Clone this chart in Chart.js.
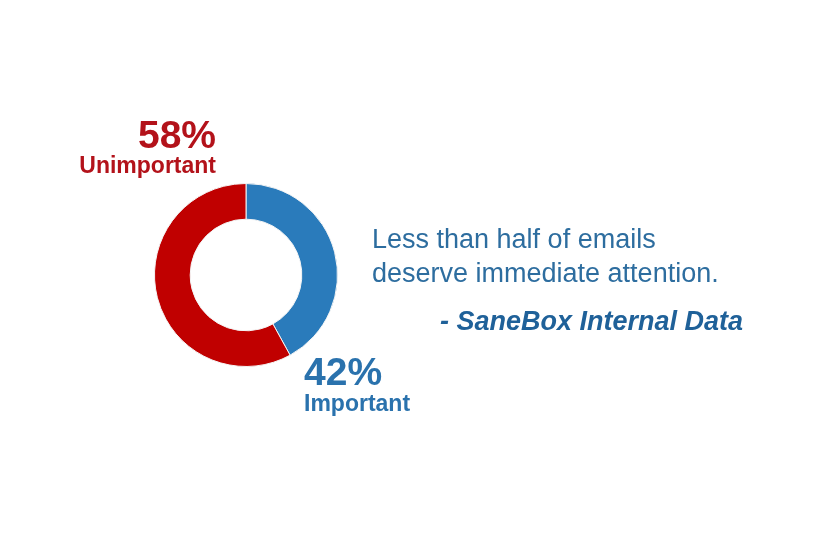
<!DOCTYPE html>
<html>
<head>
<meta charset="utf-8">
<script src="https://cdn.jsdelivr.net/npm/chart.js@4"></script>
<style>
  html, body { margin: 0; padding: 0; background: #fff; }
  #wrap { width: 824px; height: 540px; position: relative; }
</style>
</head>
<body>
<div id="wrap"><canvas id="donut" width="824" height="540"></canvas></div>
<script>
// data
var categories = ['Important', 'Unimportant'];
var shares = [42, 58];
var colors = ['#2a7bbb', '#c00000'];
var labelColors = ['#2a72ad', '#b3121a'];
var quoteLines = ['Less than half of emails', 'deserve immediate attention.'];
var quoteSource = '- SaneBox Internal Data';

// text labels around the ring + the quote on the right
var textPlugin = {
  id: 'slideText',
  afterDraw: function (chart) {
    var ctx = chart.ctx;
    ctx.save();
    ctx.textBaseline = 'alphabetic';

    // Unimportant (red) - upper left, right aligned
    ctx.fillStyle = labelColors[1];
    ctx.textAlign = 'right';
    ctx.font = 'bold 39px "Liberation Sans", Arial, sans-serif';
    ctx.fillText(shares[1] + '%', 216, 148);
    ctx.font = 'bold 23px "Liberation Sans", Arial, sans-serif';
    ctx.fillText(categories[1], 216, 173);

    // Important (blue) - lower right
    ctx.fillStyle = labelColors[0];
    ctx.textAlign = 'left';
    ctx.font = 'bold 39px "Liberation Sans", Arial, sans-serif';
    ctx.fillText(shares[0] + '%', 304, 385);
    ctx.font = 'bold 23px "Liberation Sans", Arial, sans-serif';
    ctx.fillText(categories[0], 304, 411);

    // quote
    ctx.fillStyle = '#2d6d9f';
    ctx.font = '27px "Liberation Sans", Arial, sans-serif';
    ctx.fillText(quoteLines[0], 372, 248);
    ctx.fillText(quoteLines[1], 372, 282);
    ctx.fillStyle = '#1f6199';
    ctx.font = 'italic bold 27px "Liberation Sans", Arial, sans-serif';
    ctx.fillText(quoteSource, 440, 330);
    ctx.restore();
  }
};

new Chart(document.getElementById('donut'), {
  type: 'doughnut',
  data: {
    labels: categories,
    datasets: [{
      data: shares,
      backgroundColor: colors,
      borderColor: '#f4f4f4',
      borderWidth: 1
    }]
  },
  options: {
    responsive: false,
    animation: false,
    cutout: '61%',
    layout: { padding: { left: 154, right: 486, top: 183, bottom: 173 } },
    plugins: { legend: { display: false }, tooltip: { enabled: false } }
  },
  plugins: [textPlugin]
});
</script>
</body>
</html>
